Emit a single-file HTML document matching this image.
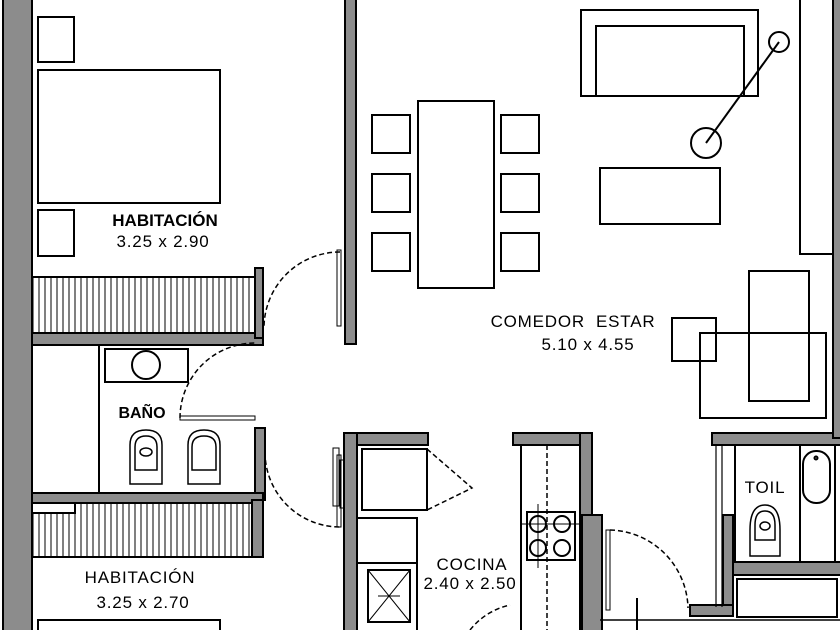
<!DOCTYPE html>
<html><head><meta charset="utf-8"><style>
html,body{margin:0;padding:0;background:#fff;}
svg{display:block;}
text{font-family:"Liberation Sans",sans-serif;fill:#000;}
.n{font-size:17px;letter-spacing:0.8px;}
</style></head><body>
<svg width="840" height="630" viewBox="0 0 840 630" xmlns="http://www.w3.org/2000/svg">
<defs>
<pattern id="hatch" width="6" height="10" patternUnits="userSpaceOnUse"><rect width="6" height="10" fill="#fff"/><line x1="3" y1="0" x2="3" y2="10" stroke="#000" stroke-width="1"/></pattern>
</defs>
<g stroke="#000" stroke-width="2" fill="#8c8c8c">
<rect x="3" y="-2" width="29" height="640"/>
<rect x="345" y="-2" width="11" height="346"/>
<rect x="32" y="333" width="231" height="12"/>
<rect x="255" y="268" width="8" height="70"/>
<rect x="255" y="428" width="10" height="72"/>
<rect x="32" y="493" width="231" height="10"/>
<rect x="252" y="500" width="11" height="57"/>
<rect x="344" y="433" width="84" height="12"/>
<rect x="344" y="433" width="13" height="200"/>
<rect x="513" y="433" width="79" height="12"/>
<rect x="580" y="433" width="12" height="85"/>
<rect x="582" y="515" width="20" height="118"/>
<rect x="712" y="433" width="130" height="12"/>
<rect x="723" y="515" width="10" height="100"/>
<rect x="690" y="605" width="43" height="11"/>
<rect x="733" y="562" width="110" height="13"/>
<rect x="833" y="-2" width="10" height="440"/>
</g>
<g stroke="#000" stroke-width="2" fill="none">
<rect x="32" y="277" width="223" height="56" fill="url(#hatch)"/>
<path d="M32 513 H75 V503 H252 V557 H32 Z" fill="url(#hatch)"/>
<rect x="38" y="17" width="36" height="45"/>
<rect x="38" y="70" width="182" height="133"/>
<rect x="38" y="210" width="36" height="46"/>
<rect x="38" y="620" width="182" height="20"/>
<line x1="99" y1="345" x2="99" y2="493"/>
<rect x="105" y="349" width="83" height="33"/>
<circle cx="146" cy="365" r="14"/>
<path d="M130 484 V445 Q130 430 146 430 Q162 430 162 445 V484 Z" stroke-width="1.5"/>
<path d="M135 470 V447 Q135 436 146 436 Q157 436 157 447 V470 Z" stroke-width="1.5"/>
<ellipse cx="146" cy="452" rx="6" ry="4" stroke-width="1.5"/>
<path d="M188 484 V445 Q188 430 204 430 Q220 430 220 445 V484 Z" stroke-width="1.5"/>
<path d="M192 470 V447 Q192 436 204 436 Q216 436 216 447 V470 Z" stroke-width="1.5"/>
<path d="M340 252 A76 76 0 0 0 264 328" stroke-dasharray="5,3" stroke-width="1.5"/>
<rect x="337" y="250" width="4" height="76" stroke-width="1"/>
<path d="M180 418 A75 75 0 0 1 255 343" stroke-dasharray="5,3" stroke-width="1.5"/>
<rect x="180" y="416" width="75" height="4" stroke-width="1"/>
<path d="M265 452 A75 75 0 0 0 340 527" stroke-dasharray="5,3" stroke-width="1.5"/>
<rect x="337" y="455" width="4" height="72" stroke-width="1"/>
<rect x="340" y="460" width="4" height="48" stroke-width="1"/>
<rect x="418" y="101" width="76" height="187"/>
<rect x="372" y="115" width="38" height="38"/><rect x="372" y="174" width="38" height="38"/><rect x="372" y="233" width="38" height="38"/>
<rect x="501" y="115" width="38" height="38"/><rect x="501" y="174" width="38" height="38"/><rect x="501" y="233" width="38" height="38"/>
<rect x="581" y="10" width="177" height="86"/>
<path d="M596 96 V26 H744 V96"/>
<circle cx="779" cy="42" r="10"/><circle cx="706" cy="143" r="15"/>
<line x1="779" y1="42" x2="706" y2="143"/>
<rect x="600" y="168" width="120" height="56"/>
<path d="M800 0 V254 H834"/>
<rect x="749" y="271" width="60" height="130"/>
<rect x="700" y="333" width="126" height="85"/>
<rect x="672" y="318" width="44" height="43"/>
<rect x="362" y="449" width="65" height="61"/>
<path d="M427 449 L472 488 L427 510" stroke-dasharray="5,3" stroke-width="1.5"/>
<rect x="357" y="518" width="60" height="45"/>
<rect x="357" y="563" width="60" height="70"/>
<rect x="368" y="570" width="42" height="52"/>
<path d="M368 570 L410 622 M410 570 L368 622 M378 596 H400" stroke-width="1"/>
<rect x="521" y="445" width="59" height="190"/>
<line x1="547" y1="445" x2="547" y2="630" stroke-dasharray="5,3" stroke-width="1.5"/>
<rect x="527" y="512" width="48" height="48"/>
<circle cx="538" cy="524" r="8"/><circle cx="562" cy="524" r="8"/><circle cx="538" cy="548" r="8"/><circle cx="562" cy="548" r="8"/>
<path d="M538 504 V568 M520 524 H580" stroke-width="1"/>
<rect x="333" y="448" width="6" height="58" stroke-width="1"/>
<rect x="606" y="530" width="4" height="80" stroke-width="1"/>
<path d="M610 530 A80 80 0 0 1 688 608" stroke-dasharray="5,3" stroke-width="1.5"/>
<line x1="637" y1="598" x2="637" y2="630"/>
<line x1="600" y1="620" x2="840" y2="620" stroke-width="1.5"/>
<path d="M470 630 A70 70 0 0 1 510 605" stroke-dasharray="5,3" stroke-width="1.5"/>
<path d="M716 445 V607 M722 445 V607" stroke-width="1.2"/>
<rect x="735" y="445" width="100" height="117"/>
<line x1="800" y1="445" x2="800" y2="562"/>
<rect x="803" y="451" width="27" height="52" rx="13"/>
<circle cx="816" cy="458" r="1.5"/>
<path d="M750 556 V530 Q750 505 765 505 Q780 505 780 530 V556 Z" stroke-width="1.5"/>
<path d="M755 540 V525 Q755 511 765 511 Q775 511 775 525 V540 Z" stroke-width="1.5"/>
<ellipse cx="765" cy="526" rx="5" ry="4" stroke-width="1.5"/>
<rect x="737" y="579" width="100" height="38"/>
</g>
<text x="165" y="226" font-size="17" font-weight="bold" text-anchor="middle">HABITACIÓN</text>
<text x="163" y="247" class="n" text-anchor="middle">3.25 x 2.90</text>
<text x="142" y="418" font-size="16" font-weight="bold" text-anchor="middle">BAÑO</text>
<text x="140" y="583" class="n" text-anchor="middle">HABITACIÓN</text>
<text x="143" y="608" class="n" text-anchor="middle">3.25 x 2.70</text>
<text x="573" y="327" class="n" text-anchor="middle" xml:space="preserve">COMEDOR  ESTAR</text>
<text x="588" y="350" class="n" text-anchor="middle">5.10 x 4.55</text>
<text x="472" y="570" class="n" text-anchor="middle">COCINA</text>
<text x="470" y="589" class="n" text-anchor="middle">2.40 x 2.50</text>
<text x="765" y="493" class="n" text-anchor="middle">TOIL</text>
</svg>
</body></html>
